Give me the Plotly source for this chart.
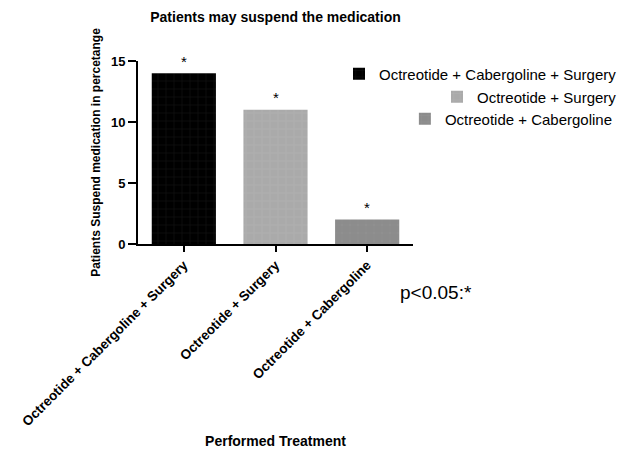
import plotly.graph_objects as go

categories = ["Octreotide + Cabergoline + Surgery", "Octreotide + Surgery", "Octreotide + Cabergoline"]
values = [14, 11, 2]
colors = ["#000000", "#aaaaaa", "#8c8c8c"]
grid_colors = ["#2a2a2a", "#bdbdbd", "#9c9c9c"]
star_labels = ["*", "*", "*"]
y_ticks = [0, 5, 10, 15]

FONT = "Arial, Liberation Sans, sans-serif"

# figure is offset by the default 8px body margin of the page
W, H = 625, 446
L, T = 130, 53
PW, PH = 275, 183

fig = go.Figure()
legend_names = ["legend", "legend2", "legend3"]
for i, (cat, val) in enumerate(zip(categories, values)):
    fig.add_trace(go.Bar(
        x=[cat], y=[val], name=cat, width=0.7,
        marker=dict(color=colors[i], line=dict(width=0),
                    pattern=dict(shape="+", fgcolor=grid_colors[i], size=8,
                                 solidity=0.12, fillmode="overlay")),
        legend=legend_names[i], showlegend=True, hoverinfo="skip",
    ))

for cat, val, s in zip(categories, values, star_labels):
    fig.add_annotation(x=cat, y=val + 1, text=s, showarrow=False,
                       font=dict(size=15, color="#000", family=FONT), yanchor="middle")

fig.add_annotation(xref="paper", yref="paper", x=(398 - 138) / PW, y=(244 - 292) / PH,
                   text="p<0.05:*", showarrow=False, xanchor="left", yanchor="middle",
                   font=dict(size=19, color="#000", family=FONT))

legend_common = dict(font=dict(size=15, color="#000", family=FONT), bgcolor="rgba(0,0,0,0)",
                     xanchor="right", yanchor="middle", itemwidth=30)
fig.update_layout(
    width=W, height=H,
    margin=dict(l=L, r=W - L - PW, t=T, b=H - T - PH, autoexpand=False),
    paper_bgcolor="white", plot_bgcolor="white",
    title=dict(text="<b>Patients may suspend the medication</b>", x=(L + PW / 2) / W,
               xanchor="center", y=1 - 9 / H, yanchor="middle",
               font=dict(size=14, color="#000", family=FONT)),
    font=dict(family=FONT, color="#000"),
    legend=dict(x=1.76, y=(244 - 74) / PH, **legend_common),
    legend2=dict(x=1.76, y=(244 - 97) / PH, **legend_common),
    legend3=dict(x=1.745, y=(244 - 119) / PH, **legend_common),
    xaxis=dict(categoryorder="array", categoryarray=categories, range=[-0.5, 2.5],
               showline=True, linecolor="#000", linewidth=2, ticks="outside",
               ticklen=6, tickwidth=2, tickcolor="#000", tickangle=-45,
               tickfont=dict(size=13.5, family=FONT, color="#000", weight="bold"),
               title=dict(text="<b>Performed Treatment</b>", standoff=8,
                          font=dict(size=14, family=FONT, color="#000")),
               showgrid=False, zeroline=False),
    yaxis=dict(range=[0, 15], tickvals=y_ticks, showline=True, linecolor="#000", linewidth=2,
               ticks="outside", ticklen=8, tickwidth=2, tickcolor="#000",
               tickfont=dict(size=13, family=FONT, color="#000", weight="bold"),
               title=dict(text="<b>Patients Suspend medication in percetange</b>", standoff=8,
                          font=dict(size=12, family=FONT, color="#000")),
               showgrid=False, zeroline=False),
)
fig.update_traces(cliponaxis=False)
fig.write_html("out.html")
